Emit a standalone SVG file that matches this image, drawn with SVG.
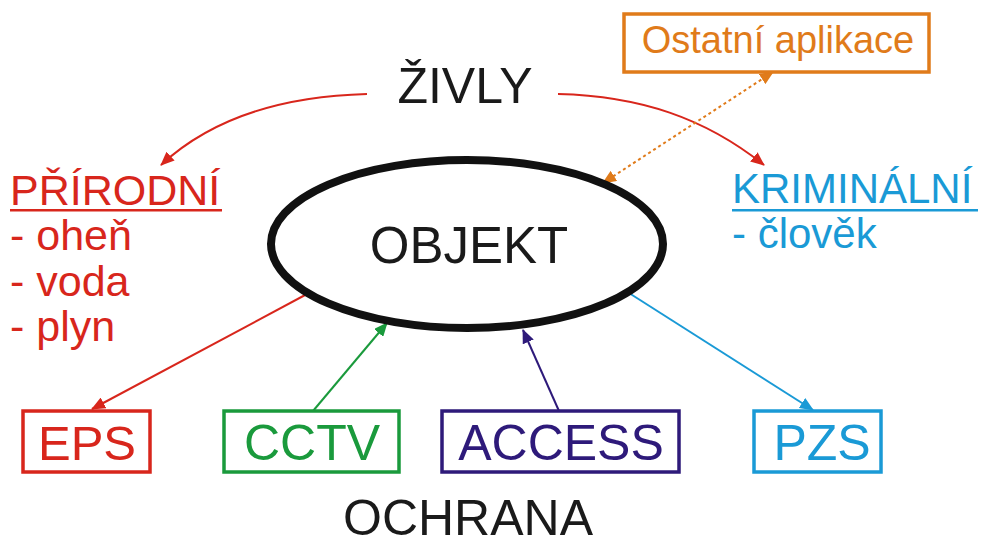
<svg xmlns="http://www.w3.org/2000/svg" width="982" height="546" viewBox="0 0 982 546">
<style>
text{font-family:"Liberation Sans",Arial,sans-serif}
.blk{fill:#1a1a1a}
.red{fill:#d8261c}
.blu{fill:#1a9ad6}
.box{fill:#fff;stroke-width:3.5}
.c{fill:none;stroke-width:2}
</style>
<defs>
<marker id="aR" markerUnits="userSpaceOnUse" markerWidth="14" markerHeight="12" refX="13" refY="6" orient="auto"><path d="M0,0 L14,6 L0,12 z" fill="#d8261c"/></marker>
<marker id="aG" markerUnits="userSpaceOnUse" markerWidth="14" markerHeight="12" refX="13" refY="6" orient="auto"><path d="M0,0 L14,6 L0,12 z" fill="#1a9a3c"/></marker>
<marker id="aP" markerUnits="userSpaceOnUse" markerWidth="14" markerHeight="12" refX="13" refY="6" orient="auto"><path d="M0,0 L14,6 L0,12 z" fill="#2e1a7a"/></marker>
<marker id="aB" markerUnits="userSpaceOnUse" markerWidth="14" markerHeight="12" refX="13" refY="6" orient="auto"><path d="M0,0 L14,6 L0,12 z" fill="#1a9ad6"/></marker>
<marker id="aO" markerUnits="userSpaceOnUse" markerWidth="14" markerHeight="12" refX="13" refY="6" orient="auto-start-reverse"><path d="M0,0 L14,6 L0,12 z" fill="#e07b1a"/></marker>
</defs>
<rect width="982" height="546" fill="#fff"/>

<g id="connectors">
<path class="c" stroke="#d8261c" d="M367,94 C290,96 215,115 161,165" marker-end="url(#aR)"/>
<path class="c" stroke="#d8261c" d="M558,94 C640,96 705,118 764,165" marker-end="url(#aR)"/>
<path class="c" stroke="#e07b1a" stroke-dasharray="3,3" d="M603,183 L773,72" marker-start="url(#aO)" marker-end="url(#aO)"/>
<path class="c" stroke="#d8261c" d="M307,294 L92,409" marker-end="url(#aR)"/>
<path class="c" stroke="#1a9a3c" d="M313,411 L387,323" marker-end="url(#aG)"/>
<path class="c" stroke="#2e1a7a" d="M559,411 L523,330" marker-end="url(#aP)"/>
<path class="c" stroke="#1a9ad6" d="M629,293 L813,410" marker-end="url(#aB)"/>
</g>

<g id="zivly">
<text class="blk" x="465" y="103" font-size="50" text-anchor="middle">ŽIVLY</text>
</g>

<g id="objekt">
<ellipse cx="467" cy="244" rx="196" ry="84" fill="#fff" stroke="#111" stroke-width="8"/>
<text class="blk" x="469" y="263" font-size="51" text-anchor="middle">OBJEKT</text>
</g>

<g id="ostatni">
<rect class="box" x="624" y="14" width="305" height="58" stroke="#e07b1a"/>
<text x="778" y="53" font-size="38" text-anchor="middle" fill="#e07b1a">Ostatní aplikace</text>
</g>

<g id="prirodni">
<text class="red" x="10" y="205" font-size="43">PŘÍRODNÍ</text>
<rect x="10" y="209" width="212" height="2.5" fill="#d8261c"/>
<text class="red" x="10" y="250" font-size="43">- oheň</text>
<text class="red" x="10" y="296" font-size="43">- voda</text>
<text class="red" x="10" y="341" font-size="43">- plyn</text>
</g>

<g id="kriminalni">
<text class="blu" x="732" y="203" font-size="42">KRIMINÁLNÍ</text>
<rect x="732" y="209" width="246" height="2.5" fill="#1a9ad6"/>
<text class="blu" x="732" y="248" font-size="42">- člověk</text>
</g>

<g id="eps">
<rect class="box" x="23" y="411" width="127" height="61" stroke="#d8261c"/>
<text x="87" y="460" font-size="49" text-anchor="middle" fill="#d8261c">EPS</text>
</g>

<g id="cctv">
<rect class="box" x="224" y="411" width="175" height="61" stroke="#1a9a3c"/>
<text x="312" y="460" font-size="50" text-anchor="middle" fill="#1a9a3c">CCTV</text>
</g>

<g id="access">
<rect class="box" x="442" y="411" width="237" height="61" stroke="#2e1a7a"/>
<text x="561" y="460" font-size="50" text-anchor="middle" fill="#2e1a7a">ACCESS</text>
</g>

<g id="pzs">
<rect class="box" x="754" y="411" width="127" height="61" stroke="#1a9ad6"/>
<text x="822" y="460" font-size="50" text-anchor="middle" fill="#1a9ad6">PZS</text>
</g>

<g id="ochrana">
<text class="blk" x="468" y="535" font-size="50" text-anchor="middle">OCHRANA</text>
</g>
</svg>
